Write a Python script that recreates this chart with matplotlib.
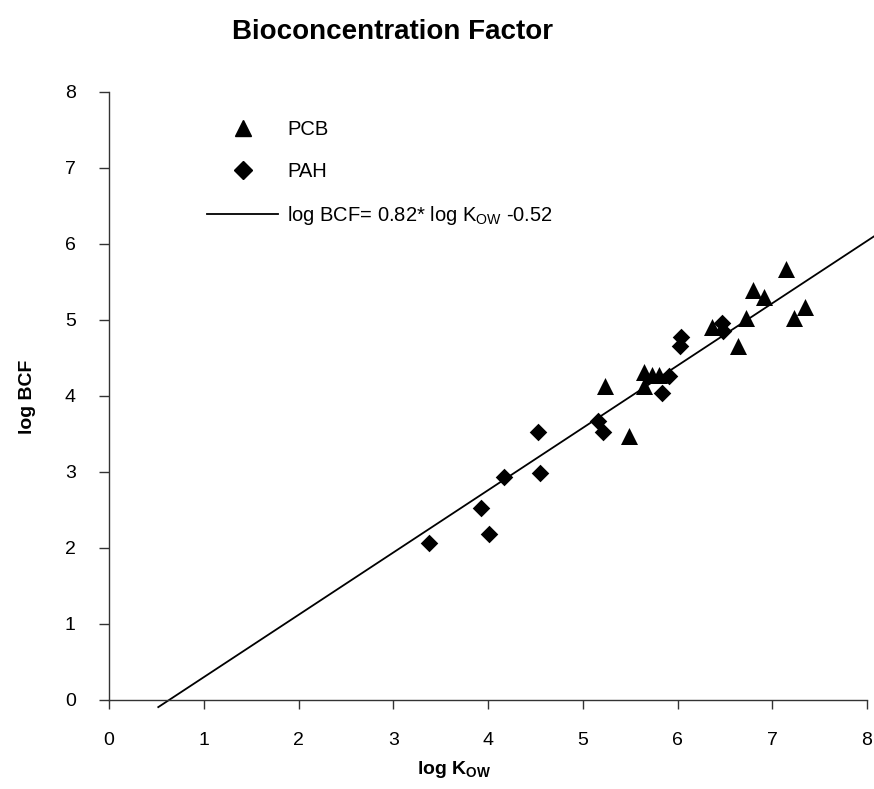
import matplotlib
matplotlib.use("Agg")
import matplotlib.pyplot as plt
from matplotlib.lines import Line2D
import numpy as np

plt.rcParams['font.family'] = ['Liberation Sans', 'DejaVu Sans']
plt.rcParams['mathtext.fontset'] = 'custom'
plt.rcParams['mathtext.rm'] = 'Liberation Sans'
plt.rcParams['mathtext.bf'] = 'Liberation Sans:bold'

# PCB data (log Kow, log BCF)
pcb_x = [7.15, 6.80, 6.91, 7.35, 7.23, 6.72, 6.36, 6.64, 5.65, 5.73, 5.81, 5.24, 5.65, 5.49]
pcb_y = [5.67, 5.40, 5.30, 5.17, 5.02, 5.02, 4.91, 4.66, 4.31, 4.28, 4.28, 4.13, 4.13, 3.47]
# PAH data
pah_x = [6.47, 6.48, 6.04, 6.03, 5.91, 5.84, 5.16, 5.21, 4.53, 4.17, 4.55, 3.93, 4.01, 3.38]
pah_y = [4.96, 4.85, 4.77, 4.66, 4.26, 4.04, 3.67, 3.52, 3.52, 2.93, 2.99, 2.53, 2.19, 2.06]
# regression line
slope = 0.82
intercept = -0.52
fit_x = np.array([0.52, 8.07])
ticks = [0, 1, 2, 3, 4, 5, 6, 7, 8]

W, H = 874, 789
fig = plt.figure(figsize=(W / 100, H / 100), dpi=100)
ax = fig.add_axes([109 / W, 1 - 700 / H, (867 - 109) / W, (700 - 92) / H])

ax.scatter(pcb_x, pcb_y, marker='^', s=150, color='black', zorder=3, linewidths=0)
ax.scatter(pah_x, pah_y, marker='D', s=80, color='black', zorder=3, linewidths=0)
ax.plot(fit_x, slope * fit_x + intercept, color='black', lw=1.3, clip_on=False, zorder=2)

ax.set_xlim(0, 8)
ax.set_ylim(0, 8)
ax.set_xticks(ticks)
ax.set_yticks(ticks)
ax.spines['top'].set_visible(False)
ax.spines['right'].set_visible(False)
for s in ('left', 'bottom'):
    ax.spines[s].set_color('#333333')
    ax.spines[s].set_linewidth(1.0)
ax.tick_params(axis='y', direction='out', length=7.5, width=1.0, color='#333333', pad=16.5, labelsize=14)
ax.tick_params(axis='x', direction='out', length=6.5, width=1.0, color='#333333', pad=16.5, labelsize=14)

ax.set_xlabel(r'log K$_{\mathregular{OW}}$', fontsize=14, fontweight='bold', va='center')
ax.xaxis.set_label_coords(0.456, -0.115)
ax.set_ylabel('log BCF', fontsize=14, fontweight='bold', va='center')
ax.yaxis.set_label_coords(-0.107, 0.498)

fig.text(392 / W, 1 - 39 / H, 'Bioconcentration Factor', ha='center', va='baseline',
         fontsize=20, fontweight='bold')

handles = [
    Line2D([], [], marker='^', color='black', ls='none', markersize=12),
    Line2D([], [], marker='D', color='black', ls='none', markersize=9),
    Line2D([], [], color='black', lw=1.3),
]
labels = ['PCB', 'PAH', r'log BCF= 0.82* log K$_{\mathregular{OW}}$ -0.52']
leg = ax.legend(handles, labels, loc='upper left', bbox_to_anchor=(207 / W, 1 - 120 / H),
                bbox_transform=fig.transFigure, frameon=False, fontsize=14.5,
                handlelength=3.53, handletextpad=0.45, labelspacing=1.15, borderpad=0,
                borderaxespad=0)

fig.savefig('out.png', dpi=100)
